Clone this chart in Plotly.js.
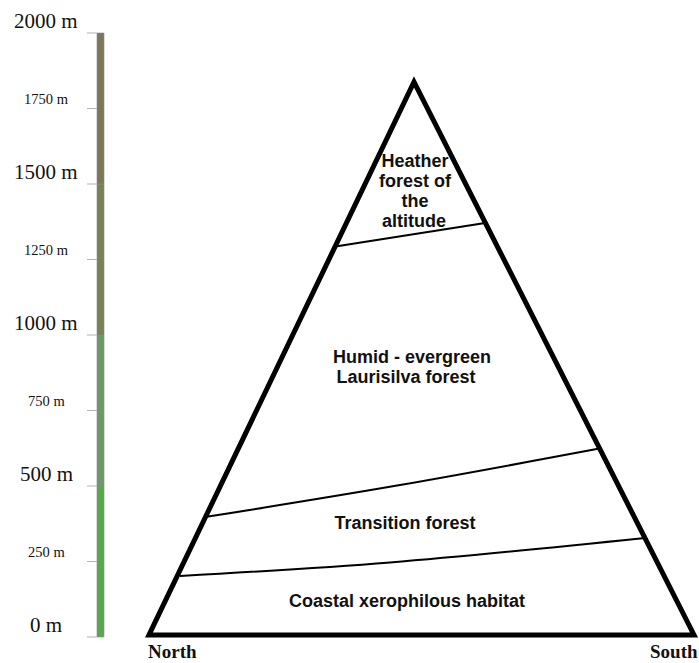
<!DOCTYPE html>
<html>
<head>
<meta charset="utf-8">
<script src="https://cdn.plot.ly/plotly-3.0.1.min.js"></script>
<style>html,body{margin:0;padding:0;background:#fff;}#chart{width:699px;height:663px;}</style>
</head>
<body>
<div id="chart"></div>
<script>
// Altitude scale (metres)
const scaleTicks = [0, 250, 500, 750, 1000, 1250, 1500, 1750, 2000];
const scaleLabels = ["0 m", "250 m", "500 m", "750 m", "1000 m", "1250 m", "1500 m", "1750 m", "2000 m"];
const scaleMajor = [true, false, true, false, true, false, true, false, true];
const bandBase = [0, 500, 1000, 1500];
const bandHeight = [500, 500, 500, 500];
const bandColors = ["#58a84c", "#6b9a6a", "#788255", "#7e7659"];

// Mountain outline (horizontal position, altitude m)
const mountainX = [149, 414, 694];
const mountainY = [7, 1838, 7];

// Zone boundaries (horizontal position, altitude m)
const boundaryLowX = [180, 390, 645];
const boundaryLowY = [202, 247, 328];
const boundaryMidX = [205, 400, 598];
const boundaryMidY = [397, 503, 623];
const boundaryTopX = [337, 485];
const boundaryTopY = [1294, 1371];

// Zone labels
const zoneText = ["Heather", "forest of", "the", "altitude", "Humid - evergreen", "Laurisilva forest", "Transition forest", "Coastal xerophilous habitat"];
const zoneX = [415, 415, 415, 414, 412, 406, 405, 407];
const zoneY = [1570, 1504, 1438, 1374, 921, 855, 371, 113];

const sideText = ["North", "South"];

// Pixel-like layout helpers
const W = 699, H = 663;
const pxPerM = 0.302, zeroPx = 637;
const yTop = zeroPx / pxPerM, yBottom = -(H - zeroPx) / pxPerM;

const traces = [];

// Altitude colour bar
traces.push({
  type: 'bar', x: bandBase.map(() => 100.5), y: bandHeight, base: bandBase,
  width: 7, marker: {color: bandColors, line: {color: '#8c8c8c', width: 0.6}},
  hoverinfo: 'skip', showlegend: false
});

// Tick marks
const tx = [], ty = [];
scaleTicks.forEach(v => { tx.push(87, 97, null); ty.push(v, v, null); });
traces.push({type: 'scatter', mode: 'lines', x: tx, y: ty,
  line: {color: '#b4b4b4', width: 1}, hoverinfo: 'skip', showlegend: false});

// Boundaries
[[boundaryLowX, boundaryLowY], [boundaryMidX, boundaryMidY], [boundaryTopX, boundaryTopY]].forEach(([bx, by]) => {
  traces.push({type: 'scatter', mode: 'lines', x: bx, y: by,
    line: {color: '#000', width: 2, shape: 'spline', smoothing: 1},
    hoverinfo: 'skip', showlegend: false});
});

// Zone labels
traces.push({type: 'scatter', mode: 'text', x: zoneX, y: zoneY, text: zoneText,
  textposition: 'middle center',
  textfont: {family: 'Liberation Sans, Arial, sans-serif', size: 18, color: '#111', weight: 'bold'},
  hoverinfo: 'skip', showlegend: false});

// Mountain outline as closed path
const path = 'M ' + mountainX.map((x, i) => x + ',' + mountainY[i]).join(' L ') + ' Z';

const annotations = [];
scaleTicks.forEach((v, i) => {
  annotations.push({x: 46, y: v, xref: 'x', yref: 'y', text: scaleLabels[i], showarrow: false,
    xanchor: 'center', yanchor: 'middle', yshift: scaleMajor[i] ? 12 : 10,
    font: {family: 'Liberation Serif, Times New Roman, serif', size: scaleMajor[i] ? 21 : 14.5, color: '#111'}});
});
annotations.push({x: 0.211, y: 0, xref: 'paper', yref: 'paper', text: sideText[0], showarrow: false,
  xanchor: 'left', yanchor: 'bottom', yshift: 0, borderpad: 0,
  font: {family: 'Liberation Serif, Times New Roman, serif', size: 19, color: '#111', weight: 'bold'}});
annotations.push({x: 1, y: 0, xref: 'paper', yref: 'paper', text: sideText[1], showarrow: false,
  xanchor: 'right', yanchor: 'bottom', yshift: 0, borderpad: 0,
  font: {family: 'Liberation Serif, Times New Roman, serif', size: 19, color: '#111', weight: 'bold'}});

const layout = {
  width: W, height: H,
  margin: {l: 0, r: 0, t: 0, b: 0, pad: 0},
  paper_bgcolor: '#fff', plot_bgcolor: '#fff',
  showlegend: false,
  xaxis: {range: [0, W], visible: false, fixedrange: true},
  yaxis: {range: [yBottom, yTop], visible: false, fixedrange: true},
  shapes: [{type: 'path', path: path, xref: 'x', yref: 'y',
    line: {color: '#000', width: 5}, fillcolor: 'rgba(0,0,0,0)', layer: 'above'}],
  annotations: annotations
};

Plotly.newPlot('chart', traces, layout, {staticPlot: true, displayModeBar: false});
</script>
</body>
</html>
